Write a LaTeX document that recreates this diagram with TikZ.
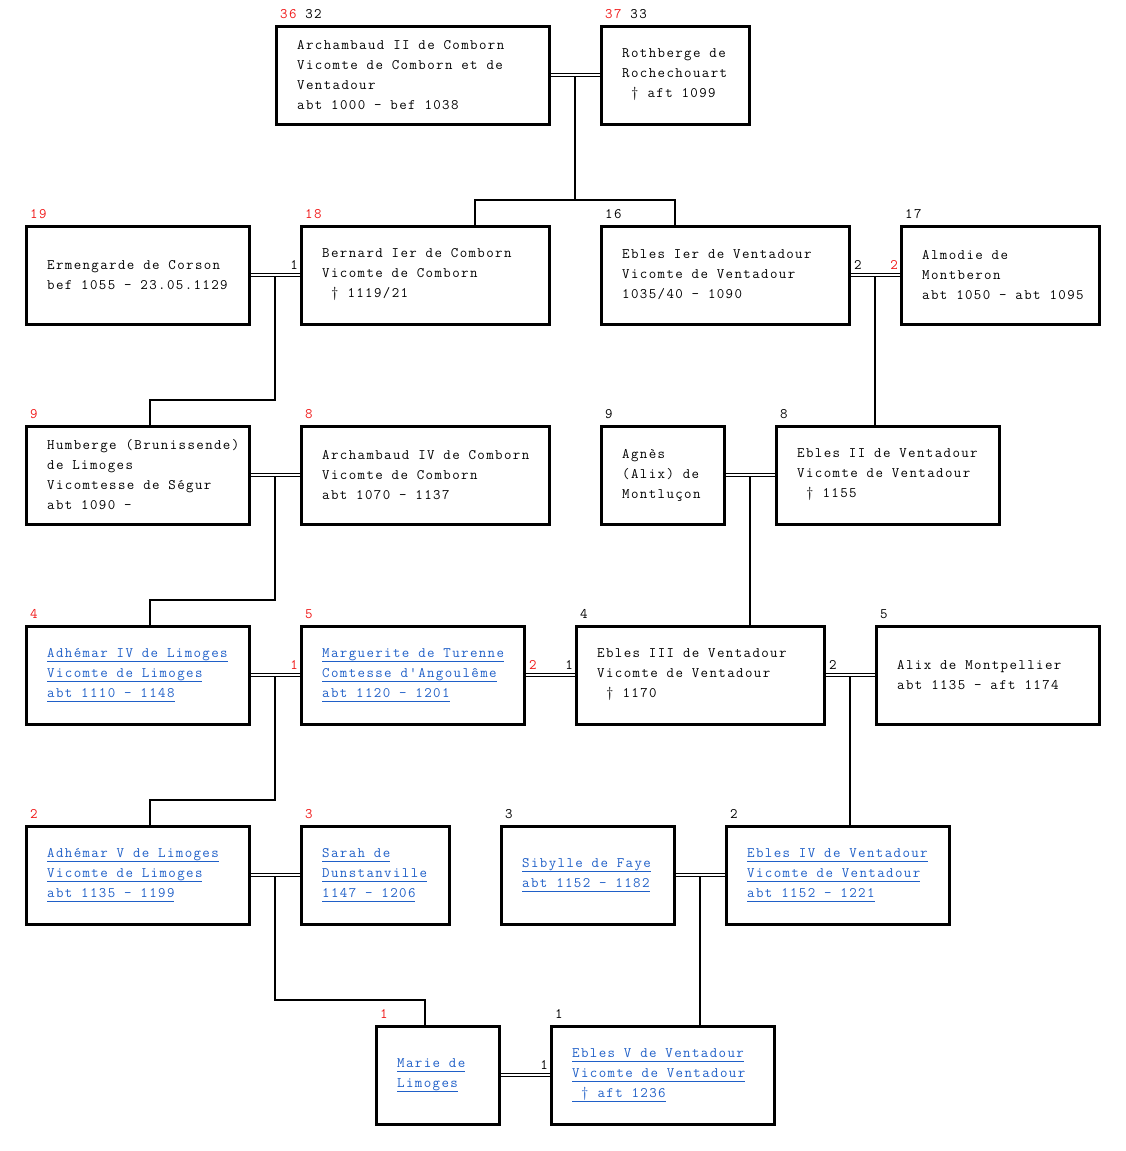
\documentclass[tikz,border=0pt]{standalone}
\usepackage{fontspec}
\setmonofont{Latin Modern Mono}[LetterSpace=9.6]
\usepackage{tikz}
\usetikzlibrary{calc, backgrounds}
\definecolor{linkblue}{HTML}{2060C8}
\definecolor{numred}{HTML}{F01818}
\newcommand{\lnk}[1]{\setbox0=\hbox{#1}\rlap{\rule[-4pt]{\wd0}{0.8pt}}\box0}
\tikzset{
	personbox/.style={
			draw=black,
			line width=3pt,
			fill=white,
			anchor=north west,
			minimum height=98pt,
			minimum width=#1,
			inner sep=0pt,
			outer sep=0pt
		},
	persontext/.style={
			anchor=west,
			align=left,
			inner sep=0pt,
			font=\ttfamily\fontsize{14.5}{20}\selectfont,
			text=black
		},
	linktext/.style={
			persontext,
			text=linkblue
		},
	numlabel/.style={
			inner sep=0pt,
			font=\ttfamily\fontsize{14.5}{20}\selectfont,
			text=black
		},
	toplabel/.style={
			numlabel,
			anchor=base west
		},
	couple/.style={
			draw=black,
			line width=1pt,
			double=white,
			double distance=2pt
		},
	descent/.style={
			draw=black,
			line width=2pt
		}
}

\begin{document}
\begin{tikzpicture}[x=1pt, y=-1pt]
\useasboundingbox (0,0) rectangle (1126,1151);

% generation 32-37
\node[personbox=273] (arch2) at (276,26) {};
\node[persontext] (arch2-t) at ([xshift=21]arch2.west) {Archambaud II de Comborn\\Vicomte de Comborn et de\\Ventadour\\abt 1000 - bef 1038};
\node[personbox=148] (roth) at (601,26) {};
\node[persontext] (roth-t) at ([xshift=21]roth.west) {Rothberge de\\Rochechouart\\\hspace*{9pt}† aft 1099};

% generation 16-19
\node[personbox=223] (erm) at (26,226) {};
\node[persontext] (erm-t) at ([xshift=21]erm.west) {Ermengarde de Corson\\bef 1055 - 23.05.1129};
\node[personbox=248] (bern) at (301,226) {};
\node[persontext] (bern-t) at ([xshift=21]bern.west) {Bernard Ier de Comborn\\Vicomte de Comborn\\\hspace*{9pt}† 1119/21};
\node[personbox=248] (ebl1) at (601,226) {};
\node[persontext] (ebl1-t) at ([xshift=21]ebl1.west) {Ebles Ier de Ventadour\\Vicomte de Ventadour\\1035/40 - 1090};
\node[personbox=198] (alm) at (901,226) {};
\node[persontext] (alm-t) at ([xshift=21]alm.west) {Almodie de\\Montberon\\abt 1050 - abt 1095};

% generation 8-9
\node[personbox=223] (hum) at (26,426) {};
\node[persontext] (hum-t) at ([xshift=21]hum.west) {Humberge (Brunissende)\\de Limoges\\Vicomtesse de Ségur\\abt 1090 -};
\node[personbox=248] (arch4) at (301,426) {};
\node[persontext] (arch4-t) at ([xshift=21]arch4.west) {Archambaud IV de Comborn\\Vicomte de Comborn\\abt 1070 - 1137};
\node[personbox=123] (agn) at (601,426) {};
\node[persontext] (agn-t) at ([xshift=21]agn.west) {Agnès\\(Alix) de\\Montluçon};
\node[personbox=223] (ebl2) at (776,426) {};
\node[persontext] (ebl2-t) at ([xshift=21]ebl2.west) {Ebles II de Ventadour\\Vicomte de Ventadour\\\hspace*{9pt}† 1155};

% generation 4-5
\node[personbox=223] (adh4) at (26,626) {};
\node[linktext] (adh4-t) at ([xshift=21]adh4.west) {\lnk{Adhémar IV de Limoges}\\\lnk{Vicomte de Limoges}\\\lnk{abt 1110 - 1148}};
\node[personbox=223] (marg) at (301,626) {};
\node[linktext] (marg-t) at ([xshift=21]marg.west) {\lnk{Marguerite de Turenne}\\\lnk{Comtesse d'Angoulême}\\\lnk{abt 1120 - 1201}};
\node[personbox=248] (ebl3) at (576,626) {};
\node[persontext] (ebl3-t) at ([xshift=21]ebl3.west) {Ebles III de Ventadour\\Vicomte de Ventadour\\\hspace*{9pt}† 1170};
\node[personbox=223] (alix) at (876,626) {};
\node[persontext] (alix-t) at ([xshift=21]alix.west) {Alix de Montpellier\\abt 1135 - aft 1174};

% generation 2-3
\node[personbox=223] (adh5) at (26,826) {};
\node[linktext] (adh5-t) at ([xshift=21]adh5.west) {\lnk{Adhémar V de Limoges}\\\lnk{Vicomte de Limoges}\\\lnk{abt 1135 - 1199}};
\node[personbox=148] (sarah) at (301,826) {};
\node[linktext] (sarah-t) at ([xshift=21]sarah.west) {\lnk{Sarah de}\\\lnk{Dunstanville}\\\lnk{1147 - 1206}};
\node[personbox=173] (sib) at (501,826) {};
\node[linktext] (sib-t) at ([xshift=21]sib.west) {\lnk{Sibylle de Faye}\\\lnk{abt 1152 - 1182}};
\node[personbox=223] (ebl4) at (726,826) {};
\node[linktext] (ebl4-t) at ([xshift=21]ebl4.west) {\lnk{Ebles IV de Ventadour}\\\lnk{Vicomte de Ventadour}\\\lnk{abt 1152 - 1221}};

% generation 1
\node[personbox=123] (marie) at (376,1026) {};
\node[linktext] (marie-t) at ([xshift=21]marie.west) {\lnk{Marie de}\\\lnk{Limoges}};
\node[personbox=223] (ebl5) at (551,1026) {};
\node[linktext] (ebl5-t) at ([xshift=21]ebl5.west) {\lnk{Ebles V de Ventadour}\\\lnk{Vicomte de Ventadour}\\\lnk{\hspace*{9pt}† aft 1236}};

% numbers above the boxes
\node[toplabel] (arch2-n) at ([xshift=4, yshift=8]arch2.north west) {\textcolor{numred}{36} 32};
\node[toplabel] (roth-n) at ([xshift=4, yshift=8]roth.north west) {\textcolor{numred}{37} 33};
\node[toplabel, text=numred] (erm-n) at ([xshift=4, yshift=8]erm.north west) {19};
\node[toplabel, text=numred] (bern-n) at ([xshift=4, yshift=8]bern.north west) {18};
\node[toplabel] (ebl1-n) at ([xshift=4, yshift=8]ebl1.north west) {16};
\node[toplabel] (alm-n) at ([xshift=4, yshift=8]alm.north west) {17};
\node[toplabel, text=numred] (hum-n) at ([xshift=4, yshift=8]hum.north west) {9};
\node[toplabel, text=numred] (arch4-n) at ([xshift=4, yshift=8]arch4.north west) {8};
\node[toplabel] (agn-n) at ([xshift=4, yshift=8]agn.north west) {9};
\node[toplabel] (ebl2-n) at ([xshift=4, yshift=8]ebl2.north west) {8};
\node[toplabel, text=numred] (adh4-n) at ([xshift=4, yshift=8]adh4.north west) {4};
\node[toplabel, text=numred] (marg-n) at ([xshift=4, yshift=8]marg.north west) {5};
\node[toplabel] (ebl3-n) at ([xshift=4, yshift=8]ebl3.north west) {4};
\node[toplabel] (alix-n) at ([xshift=4, yshift=8]alix.north west) {5};
\node[toplabel, text=numred] (adh5-n) at ([xshift=4, yshift=8]adh5.north west) {2};
\node[toplabel, text=numred] (sarah-n) at ([xshift=4, yshift=8]sarah.north west) {3};
\node[toplabel] (sib-n) at ([xshift=4, yshift=8]sib.north west) {3};
\node[toplabel] (ebl4-n) at ([xshift=4, yshift=8]ebl4.north west) {2};
\node[toplabel, text=numred] (marie-n) at ([xshift=4, yshift=8]marie.north west) {1};
\node[toplabel] (ebl5-n) at ([xshift=4, yshift=8]ebl5.north west) {1};

% marriage numbers
\node[numlabel, anchor=base east] (bern-m) at ([xshift=-3, yshift=6]bern.west) {1};
\node[numlabel, anchor=base west] (ebl1-m) at ([xshift=5, yshift=6]ebl1.east) {2};
\node[numlabel, anchor=base east, text=numred] (alm-m) at ([xshift=-3, yshift=6]alm.west) {2};
\node[numlabel, anchor=base east, text=numred] (marg-m1) at ([xshift=-3, yshift=6]marg.west) {1};
\node[numlabel, anchor=base west, text=numred] (marg-m2) at ([xshift=5, yshift=6]marg.east) {2};
\node[numlabel, anchor=base east] (ebl3-m1) at ([xshift=-3, yshift=6]ebl3.west) {1};
\node[numlabel, anchor=base west] (ebl3-m2) at ([xshift=5, yshift=6]ebl3.east) {2};
\node[numlabel, anchor=base east] (ebl5-m) at ([xshift=-3, yshift=6]ebl5.west) {1};

\coordinate (ab) at ($(arch2.east)!0.5!(roth.west)$);
\coordinate (cd) at ($(erm.east)!0.5!(bern.west)$);
\coordinate (ef) at ($(ebl1.east)!0.5!(alm.west)$);
\coordinate (gh) at ($(hum.east)!0.5!(arch4.west)$);
\coordinate (ij) at ($(agn.east)!0.5!(ebl2.west)$);
\coordinate (kl) at ($(adh4.east)!0.5!(marg.west)$);
\coordinate (mn) at ($(ebl3.east)!0.5!(alix.west)$);
\coordinate (op) at ($(adh5.east)!0.5!(sarah.west)$);
\coordinate (qr) at ($(sib.east)!0.5!(ebl4.west)$);
\coordinate (bern-in) at (475,226);
\coordinate (ebl1-in) at (675,226);
\coordinate (hum-in) at (150,426);
\coordinate (adh4-in) at (150,626);
\coordinate (adh5-in) at (150,826);
\coordinate (marie-in) at (425,1026);

\begin{scope}[on background layer]
\draw[descent] (ab) -- ++(0,125) -| (bern-in);
\draw[descent] (ab) -- ++(0,125) -| (ebl1-in);
\draw[descent] (cd) -- ++(0,125) -| (hum-in);
\draw[descent] (ef) -- (ef |- ebl2.north);
\draw[descent] (gh) -- ++(0,125) -| (adh4-in);
\draw[descent] (ij) -- (ij |- ebl3.north);
\draw[descent] (kl) -- ++(0,125) -| (adh5-in);
\draw[descent] (mn) -- (mn |- ebl4.north);
\draw[descent] (op) -- ++(0,125) -| (marie-in);
\draw[descent] (qr) -- (qr |- ebl5.north);

\draw[couple] (arch2) -- (roth);
\draw[couple] (erm) -- (bern);
\draw[couple] (ebl1) -- (alm);
\draw[couple] (hum) -- (arch4);
\draw[couple] (agn) -- (ebl2);
\draw[couple] (adh4) -- (marg);
\draw[couple] (marg) -- (ebl3);
\draw[couple] (ebl3) -- (alix);
\draw[couple] (adh5) -- (sarah);
\draw[couple] (sib) -- (ebl4);
\draw[couple] (marie) -- (ebl5);
\end{scope}
\end{tikzpicture}
\end{document}
